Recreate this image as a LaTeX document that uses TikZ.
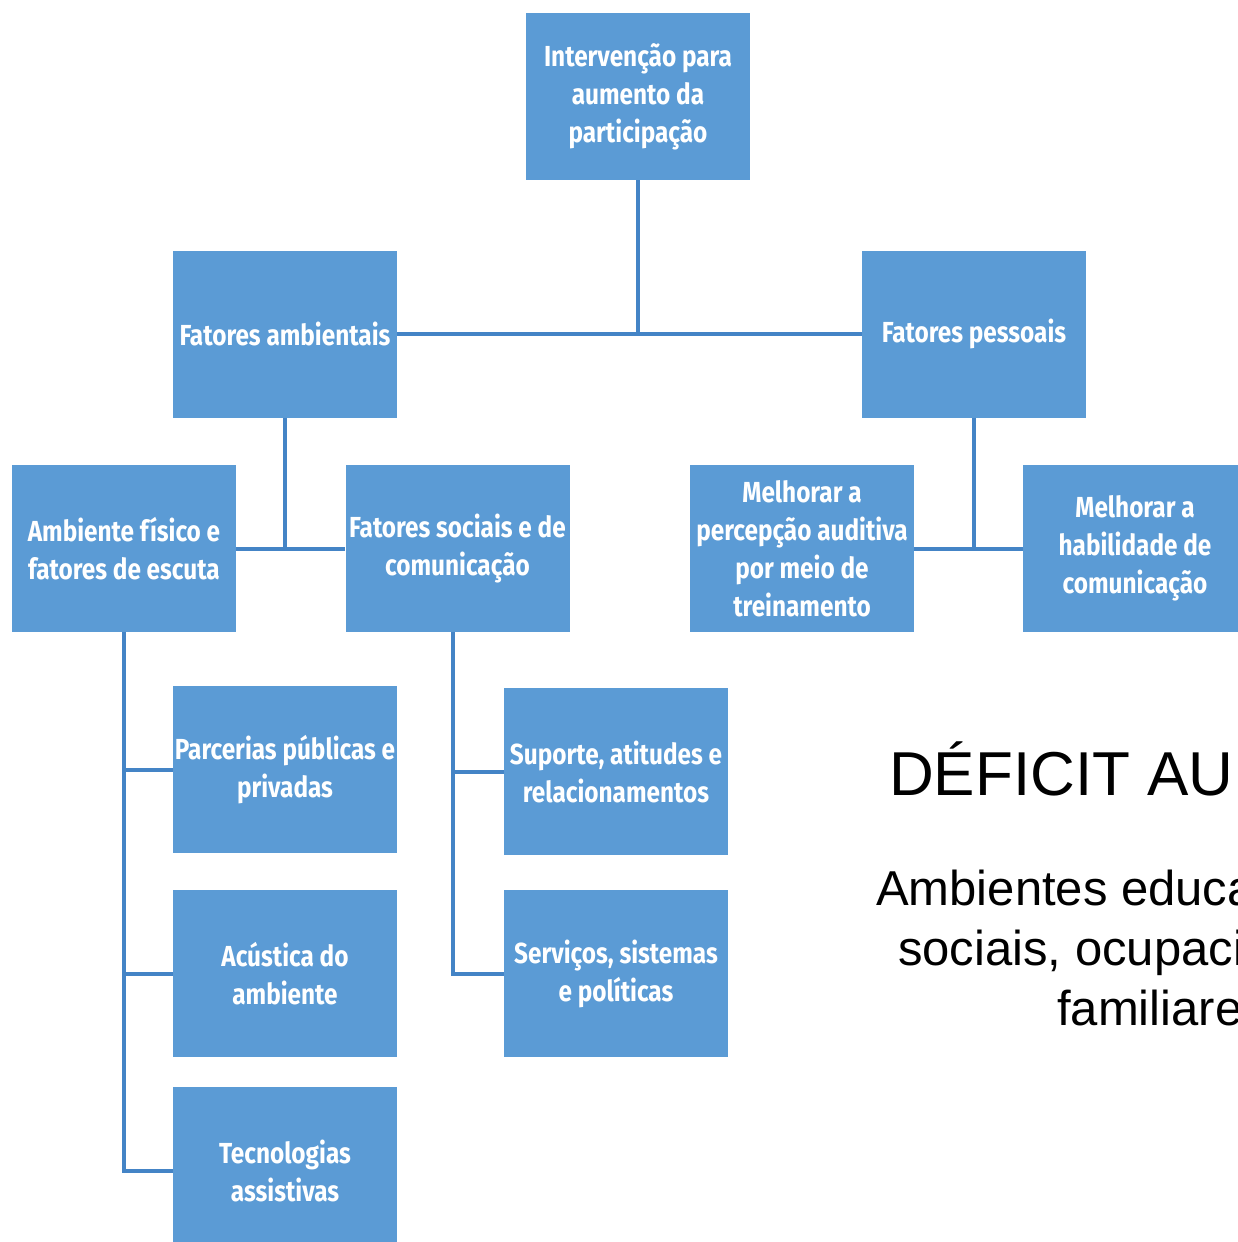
\documentclass[tikz,border=0pt]{standalone}
\usepackage{fontspec}
\newfontfamily\boxfont{Fira Sans}[FakeStretch=0.84]
\newfontfamily\arialfont{Liberation Sans}
\definecolor{boxblue}{RGB}{91,155,213}
\definecolor{lineblue}{RGB}{68,132,198}
\begin{document}
\begin{tikzpicture}[x=1pt,y=-1pt,
  bx/.style={fill=boxblue, draw=none, minimum width=224pt, minimum height=167pt,
    inner sep=0pt, align=center, text=white,
    font=\boxfont\bfseries\fontsize{29}{38}\selectfont},
  ln/.style={draw=lineblue, line width=4pt},
  bigtxt/.style={anchor=base west, inner sep=0pt, text=black,
    font=\arialfont\fontsize{62}{62}\selectfont},
  medtxt/.style={anchor=base west, inner sep=0pt, text=black,
    font=\arialfont\fontsize{49}{49}\selectfont}]
\useasboundingbox (0,0) rectangle (1238,1242);
\clip (0,0) rectangle (1238,1242);
\fill[white] (0,0) rectangle (1238,1242);

\node[bx] (top) at (638,96.5) {Intervenção para\\aumento da\\participação};
\node[bx] (amb) at (285,334) {Fatores ambientais};
\node[bx] (pes) at (974,334) {Fatores pessoais};
\node[bx] (fis) at (124,548.5) {Ambiente físico e\\fatores de escuta};
\node[bx] (soc) at (457.5,548.5) {Fatores sociais e de\\comunicação};
\node[bx] (per) at (802,548.5) {Melhorar a\\percepção auditiva\\por meio de\\treinamento};
\node[bx] (hab) at (1135,548.5) {Melhorar a\\habilidade de\\comunicação};
\node[bx] (par) at (285,769.5) {Parcerias públicas e\\privadas};
\node[bx] (acu) at (285,973.5) {Acústica do\\ambiente};
\node[bx] (tec) at (285,1170.5) {Tecnologias\\assistivas};
\node[bx] (sup) at (616,771.5) {Suporte, atitudes e\\relacionamentos};
\node[bx] (ser) at (616,973.5) {Serviços, sistemas\\e políticas};

\draw[ln] (top.south) -- (top.south |- amb.east);
\draw[ln] (amb.east) -- (pes.west);
\draw[ln] (amb.south) -- (amb.south |- fis.east);
\draw[ln] (fis.east) -- (soc.west);
\draw[ln] (pes.south) -- (pes.south |- per.east);
\draw[ln] (per.east) -- (hab.west);
\draw[ln] (fis.south) |- (tec.west);
\draw[ln] (fis.south |- par.west) -- (par.west);
\draw[ln] (fis.south |- acu.west) -- (acu.west);
\draw[ln] ([xshift=-5pt]soc.south) |- (ser.west);
\draw[ln] ([xshift=-5pt]soc.south |- sup.west) -- (sup.west);

\node[bigtxt] (t1) at (889,795) {DÉFICIT AUDITIVO};
\node[medtxt] (t2) at (876,905) {Ambientes educacionais,};
\node[medtxt] (t3) at (898,965) {sociais, ocupacionais e};
\node[medtxt] (t4) at (1057,1025) {familiares};
\end{tikzpicture}
\end{document}
